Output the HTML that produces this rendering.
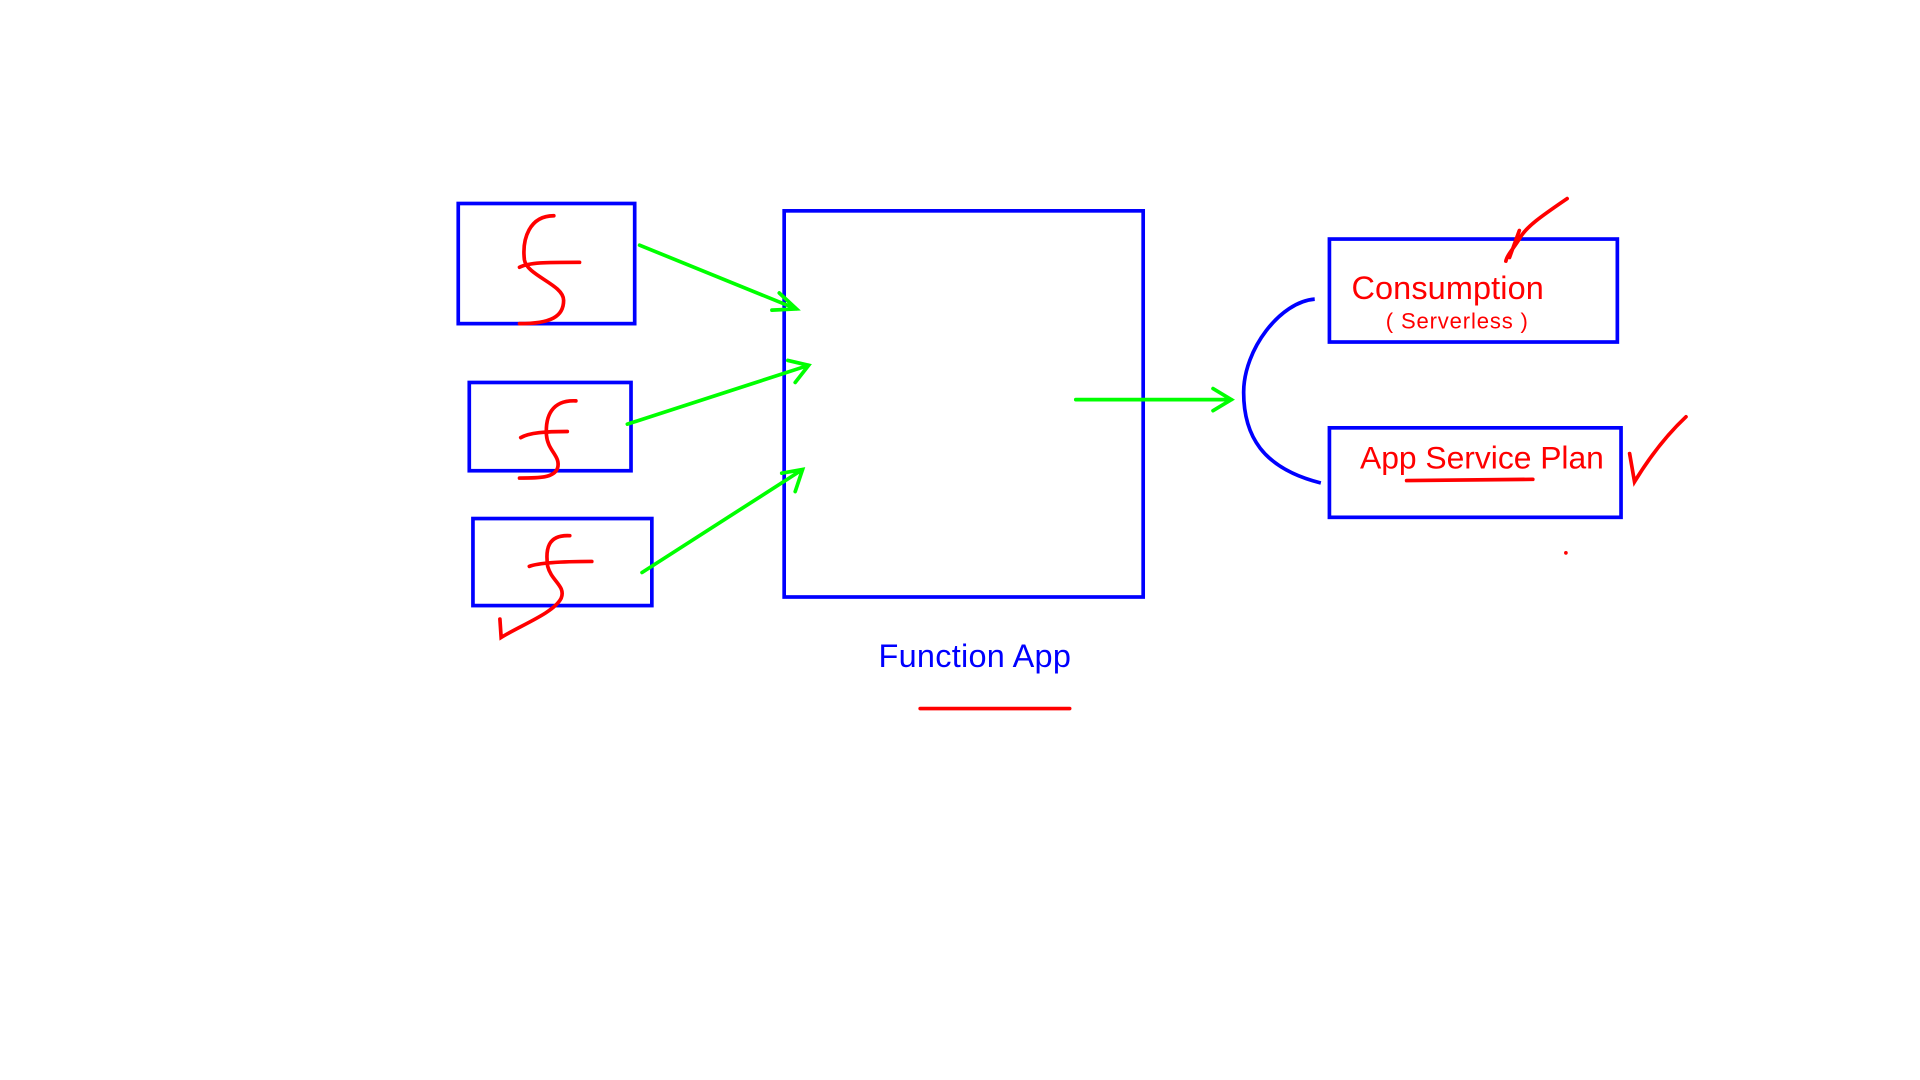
<!DOCTYPE html>
<html><head><meta charset="utf-8"><style>
html,body{margin:0;padding:0;background:#fff;width:1920px;height:1080px;overflow:hidden}
svg{display:block}
text{font-family:"Liberation Sans",sans-serif}
</style></head><body>
<svg width="1920" height="1080" viewBox="0 0 1567 881" preserveAspectRatio="none">
<g fill="none" stroke="#0000ff" stroke-width="3">
<rect x="374" y="166" width="144" height="98"/>
<rect x="383" y="312" width="132" height="72"/>
<rect x="386" y="423" width="146" height="71"/>
<rect x="640" y="172" width="293" height="315"/>
<rect x="1085" y="195" width="235" height="84"/>
<rect x="1085" y="349" width="238" height="73"/>
<path d="M1073,244 C1045,246 1015,285 1015,320 C1015,355 1030,382 1078,394"/>
</g>
<g fill="none" stroke="#00ff00" stroke-width="3" stroke-linecap="round">
<path d="M522,200 L650,252 M636,239 L650,252 L630,253"/>
<path d="M512,346 L660,298 M643,294 L660,298 L649,312"/>
<path d="M524,467 L655,383 M638,386 L655,383 L649,401"/>
<path d="M878,326 L1005,326 M990,317 L1005,326 L990,335"/>
</g>
<g fill="none" stroke="#ff0000" stroke-width="3" stroke-linecap="round">
<path d="M452,176 C432,176 426,195 428,212 C430,225 460,232 460,245 C460,258 450,264 424,264 M424,218 C432,214 445,214 473,214"/>
<path d="M470,327 C450,326 445,340 446,355 C447,368 458,372 455,382 C452,390 440,390 424,390 M425,357 C432,353 445,352 463,352"/>
<path d="M465,437 C447,436 445,448 447,462 C450,474 462,478 458,488 C452,500 425,510 409,520 L408,505 M432,462 C440,459 458,458 483,458"/>
<path d="M1279,162 C1260,175 1245,185 1240,195 C1235,203 1230,208 1229,213 M1240,188 L1232,210"/>
<path d="M1330,370 L1334,393 C1345,375 1360,355 1376,340"/>
<path d="M751,578 L873,578"/>
<path d="M1148,392 L1251,391"/>
</g>
<circle cx="1278" cy="451" r="1.5" fill="#ff0000"/>
<text x="1103" y="244" font-size="26.5" fill="#ff0000" textLength="157">Consumption</text>
<text x="1131" y="268" font-size="18" fill="#ff0000" textLength="116">( Serverless )</text>
<text x="1110" y="382" font-size="26" fill="#ff0000" textLength="199">App Service Plan</text>
<text x="717" y="544" font-size="26.5" fill="#0000ff" textLength="157">Function App</text>
</svg>
</body></html>
